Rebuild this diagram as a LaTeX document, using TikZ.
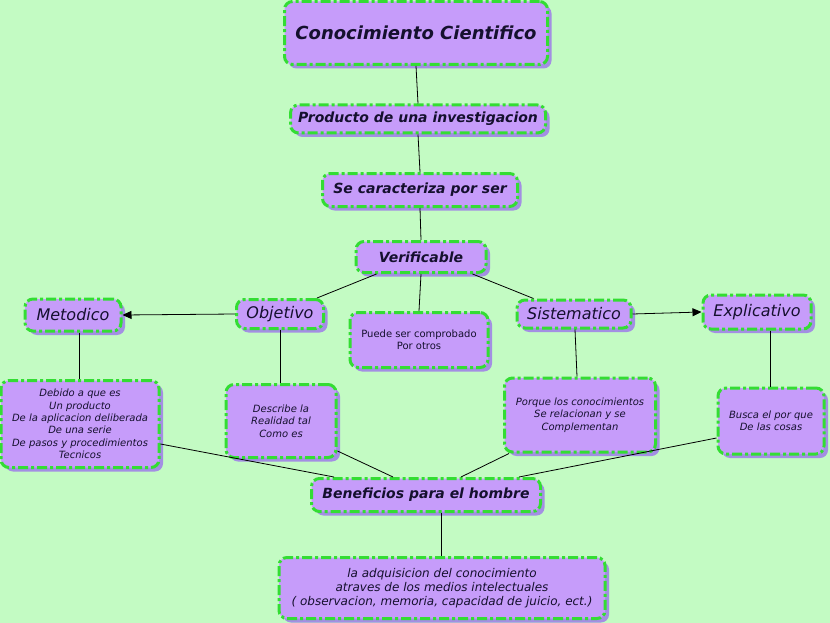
\documentclass[tikz,border=0pt]{standalone}
\usepackage{fontspec}
\setmainfont{DejaVu Sans}
\usetikzlibrary{shadows,arrows.meta}
\definecolor{bg}{HTML}{C3FBC3}
\definecolor{boxfill}{HTML}{C69CFA}
\definecolor{boxshadow}{HTML}{A38FE3}
\definecolor{boxline}{HTML}{33DD33}
\definecolor{txt}{HTML}{15102E}
\tikzset{
  cbox/.style={draw=boxline, fill=boxfill, line width=3pt, rounded corners=8pt,
    dash pattern=on 10pt off 3pt on 3pt off 3pt, align=center, inner sep=2pt,
    general shadow={fill=boxshadow, shadow xshift=4pt, shadow yshift=-4pt},
    text=txt},
  bigt/.style={font=\fontsize{18}{21}\selectfont\bfseries\itshape},
  midt/.style={font=\fontsize{14}{17}\selectfont\bfseries\itshape},
  catt/.style={font=\fontsize{16}{19}\selectfont\itshape},
  smallt/.style={font=\fontsize{10}{12.3}\selectfont\itshape},
  conn/.style={draw=black, line width=0.8pt},
  arr/.style={conn, -{Triangle[length=9pt,width=8pt]}},
}
\begin{document}
\begin{tikzpicture}[x=1pt,y=-1pt]
\useasboundingbox (0,0) rectangle (830,623);
\fill[bg] (0,0) rectangle (830,623);
\node[cbox,bigt,minimum width=263pt,minimum height=63pt] (cc) at (416,33) {Conocimiento Cientifico};
\node[cbox,midt,minimum width=255pt,minimum height=28pt] (pi) at (418,119) {Producto de una investigacion};
\node[cbox,midt,minimum width=195pt,minimum height=33pt] (sc) at (420,190) {Se caracteriza por ser};
\node[cbox,midt,minimum width=130pt,minimum height=31pt] (ve) at (421,257) {Verificable};
\node[cbox,catt,minimum width=96pt,minimum height=32pt] (me) at (73,315) {Metodico};
\node[cbox,catt,minimum width=87pt,minimum height=29pt] (ob) at (280,314) {Objetivo};
\node[cbox,font=\fontsize{10}{12.3}\selectfont,minimum width=138pt,minimum height=55pt] (pu) at (419,340) {Puede ser comprobado\\Por otros};
\node[cbox,catt,minimum width=114pt,minimum height=28pt] (si) at (574,314) {Sistematico};
\node[cbox,catt,minimum width=108pt,minimum height=34pt] (ex) at (757,312) {Explicativo};
\node[cbox,smallt,minimum width=158pt,minimum height=87pt] (de) at (80,424) {Debido a que es\\Un producto\\De la aplicacion deliberada\\De una serie\\De pasos y procedimientos\\Tecnicos};
\node[cbox,smallt,minimum width=110pt,minimum height=73pt] (dr) at (281,421) {Describe la\\Realidad tal\\Como es};
\node[cbox,smallt,minimum width=151pt,minimum height=74pt] (po) at (580,415) {Porque los conocimientos\\Se relacionan y se\\Complementan};
\node[cbox,smallt,minimum width=106pt,minimum height=66pt] (bu) at (771,421) {Busca el por que\\De las cosas};
\node[cbox,midt,minimum width=229pt,minimum height=33pt] (be) at (426,495) {Beneficios para el hombre};
\node[cbox,font=\fontsize{12}{14}\selectfont\itshape,minimum width=326pt,minimum height=61pt] (ad) at (442,588) {la adquisicion del conocimiento\\atraves de los medios intelectuales\\( observacion, memoria, capacidad de juicio, ect.)};
\draw[conn] (cc.south) -- (pi.north);
\draw[conn] (pi.south) -- (sc.north);
\draw[conn] (sc.south) -- (ve.north);
\coordinate (v1) at ([xshift=22pt]ve.south west);
\draw[conn] (v1) -- ([xshift=-8pt]ob.north east);
\draw[conn] (ve.south) -- (pu.north);
\draw[conn] ([xshift=-15pt]ve.south east) -- ([xshift=18pt]si.north west);
\draw[arr] (ob.west) -- (me.east);
\draw[arr] (si.east) -- (ex.west);
\draw[conn] ([xshift=6pt]me.south) -- ([xshift=-1pt]de.north);
\draw[conn] (ob.south) -- ([xshift=-1pt]dr.north);
\draw[conn] ([xshift=1pt]si.south) -- ([xshift=-3pt]po.north);
\draw[conn] ([xshift=13pt]ex.south) -- ([xshift=-1pt]bu.north);
\draw[conn] ([yshift=-20pt]de.east) -- ([xshift=24pt]be.north west);
\draw[conn] ([yshift=8pt]dr.south east) -- ([xshift=-33pt]be.north);
\draw[conn] ([xshift=6pt]po.south west) -- ([xshift=35pt]be.north);
\draw[conn] ([yshift=-17pt]bu.west) -- ([xshift=-23pt]be.north east);
\draw[conn] ([xshift=15pt]be.south) -- ([xshift=-1pt]ad.north);
\end{tikzpicture}
\end{document}
